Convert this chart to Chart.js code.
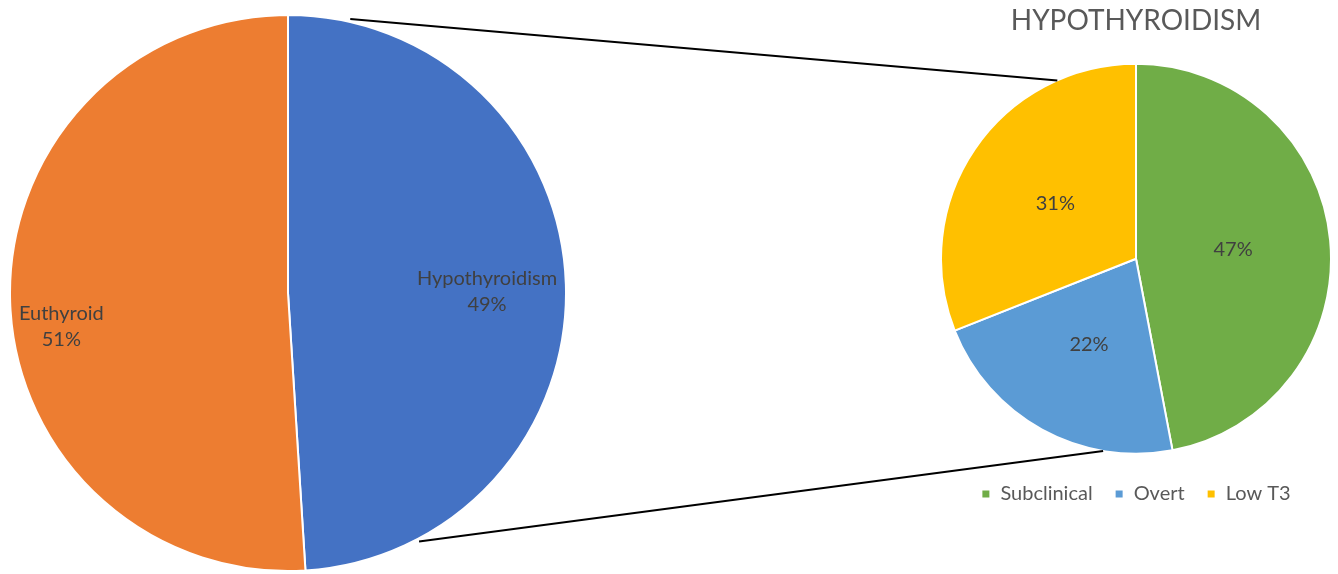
<!DOCTYPE html>
<html>
<head>
<meta charset="utf-8">
<script src="https://cdn.jsdelivr.net/npm/chart.js@4.4.1/dist/chart.umd.min.js"></script>
<style>
  html, body { margin: 0; padding: 0; background: #fff; }
  body { width: 1338px; height: 574px; position: relative; overflow: hidden; }
  .box { position: absolute; }
  #mainBox { left: 9px; top: 14px; width: 558px; height: 558px; }
  #subBox { left: 940px; top: 0px; width: 392px; height: 514px; }
  #links { position: absolute; left: 0; top: 0; pointer-events: none; }
</style>
</head>
<body>
<div class="box" id="mainBox"><canvas id="mainPie"></canvas></div>
<div class="box" id="subBox"><canvas id="subPie"></canvas></div>
<canvas id="links" width="1338" height="574"></canvas>
<script>
// main split
const mainLabels = ['Hypothyroidism', 'Euthyroid'];
const mainValues = [49, 51];
const mainColors = ['#4472C4', '#ED7D31'];

// breakdown of hypothyroidism
const subTitle = 'HYPOTHYROIDISM';
const subLabels = ['Subclinical', 'Overt', 'Low T3'];
const subValues = [47, 22, 31];
const subColors = ['#70AD47', '#5B9BD5', '#FFC000'];

// connector ends, degrees clockwise from 12 o'clock
const mainLinkAngles = [12.8, 152.2];
const subLinkAngles = [336.2, 189.7];

const labelFont = '20px Lato';
const labelColor = '#404040';
const mainLabelNudgeY = [5, 26]; // excel placed these a bit off the mid angle

function pct(values, i) {
  const total = values.reduce((a, b) => a + b, 0);
  return Math.round(values[i] / total * 100) + '%';
}

// labels for the big pie, pushed to the inner edge of the slice
const insideEndLabels = {
  id: 'insideEndLabels',
  afterDatasetsDraw(chart) {
    const ctx = chart.ctx;
    const meta = chart.getDatasetMeta(0);
    ctx.save();
    ctx.font = labelFont;
    ctx.fillStyle = labelColor;
    ctx.textAlign = 'center';
    ctx.textBaseline = 'middle';
    const lh = 26;
    meta.data.forEach((arc, i) => {
      const lines = [mainLabels[i], pct(mainValues, i)];
      const w = Math.max(...lines.map(t => ctx.measureText(t).width));
      const h = lh * lines.length;
      const mid = (arc.startAngle + arc.endAngle) / 2;
      const c = Math.cos(mid), s = Math.sin(mid);
      const d = arc.outerRadius - 8 - (Math.abs(c) * w / 2 + Math.abs(s) * h / 2);
      const x = arc.x + c * d, y = arc.y + s * d + mainLabelNudgeY[i];
      lines.forEach((t, k) => ctx.fillText(t, x, y + (k - (lines.length - 1) / 2) * lh));
    });
    ctx.restore();
  }
};

// percentages for the small pie, halfway out
const centerLabels = {
  id: 'centerLabels',
  afterDatasetsDraw(chart) {
    const ctx = chart.ctx;
    const meta = chart.getDatasetMeta(0);
    ctx.save();
    ctx.font = labelFont;
    ctx.fillStyle = labelColor;
    ctx.textAlign = 'center';
    ctx.textBaseline = 'middle';
    meta.data.forEach((arc, i) => {
      const mid = (arc.startAngle + arc.endAngle) / 2;
      const d = arc.outerRadius * 0.5;
      ctx.fillText(pct(subValues, i), arc.x + Math.cos(mid) * d, arc.y + Math.sin(mid) * d);
    });
    ctx.restore();
  }
};

const charts = {};

function drawLinks() {
  if (!charts.main || !charts.sub) return;
  const cv = document.getElementById('links');
  const ctx = cv.getContext('2d');
  ctx.clearRect(0, 0, cv.width, cv.height);
  const ma = charts.main.getDatasetMeta(0).data[0];
  const sa = charts.sub.getDatasetMeta(0).data[0];
  const mOff = charts.main.canvas.getBoundingClientRect();
  const sOff = charts.sub.canvas.getBoundingClientRect();
  const pt = (arc, off, deg, extra) => {
    const r = arc.outerRadius + extra;
    const a = deg * Math.PI / 180;
    return [off.left + arc.x + Math.sin(a) * r, off.top + arc.y - Math.cos(a) * r];
  };
  ctx.strokeStyle = '#000';
  ctx.lineWidth = 2;
  for (let k = 0; k < 2; k++) {
    const p = pt(ma, mOff, mainLinkAngles[k], 3);
    const q = pt(sa, sOff, subLinkAngles[k], 0);
    ctx.beginPath();
    ctx.moveTo(p[0], p[1]);
    ctx.lineTo(q[0], q[1]);
    ctx.stroke();
  }
}

const linkPlugin = { id: 'linkPlugin', afterRender() { drawLinks(); } };

charts.main = new Chart(document.getElementById('mainPie'), {
  type: 'pie',
  data: {
    labels: mainLabels,
    datasets: [{
      data: mainValues,
      backgroundColor: mainColors,
      borderColor: '#FFFFFF',
      borderWidth: 2,
    }]
  },
  options: {
    responsive: true,
    maintainAspectRatio: false,
    animation: false,
    plugins: {
      legend: { display: false },
      tooltip: { enabled: false },
    }
  },
  plugins: [insideEndLabels, linkPlugin]
});

charts.sub = new Chart(document.getElementById('subPie'), {
  type: 'pie',
  data: {
    labels: subLabels,
    datasets: [{
      data: subValues,
      backgroundColor: subColors,
      borderColor: '#FFFFFF',
      borderWidth: 2,
    }]
  },
  options: {
    responsive: true,
    maintainAspectRatio: false,
    animation: false,
    plugins: {
      title: {
        display: true,
        text: subTitle,
        color: '#595959',
        font: { family: 'Lato', size: 28, weight: 'normal' },
        padding: { top: 4, bottom: 18 },
      },
      legend: {
        position: 'bottom',
        labels: {
          boxWidth: 9,
          boxHeight: 9,
          padding: 22,
          color: '#595959',
          font: { family: 'Lato', size: 20 },
        }
      },
      tooltip: { enabled: false },
    }
  },
  plugins: [centerLabels, linkPlugin]
});

drawLinks();
</script>
</body>
</html>
